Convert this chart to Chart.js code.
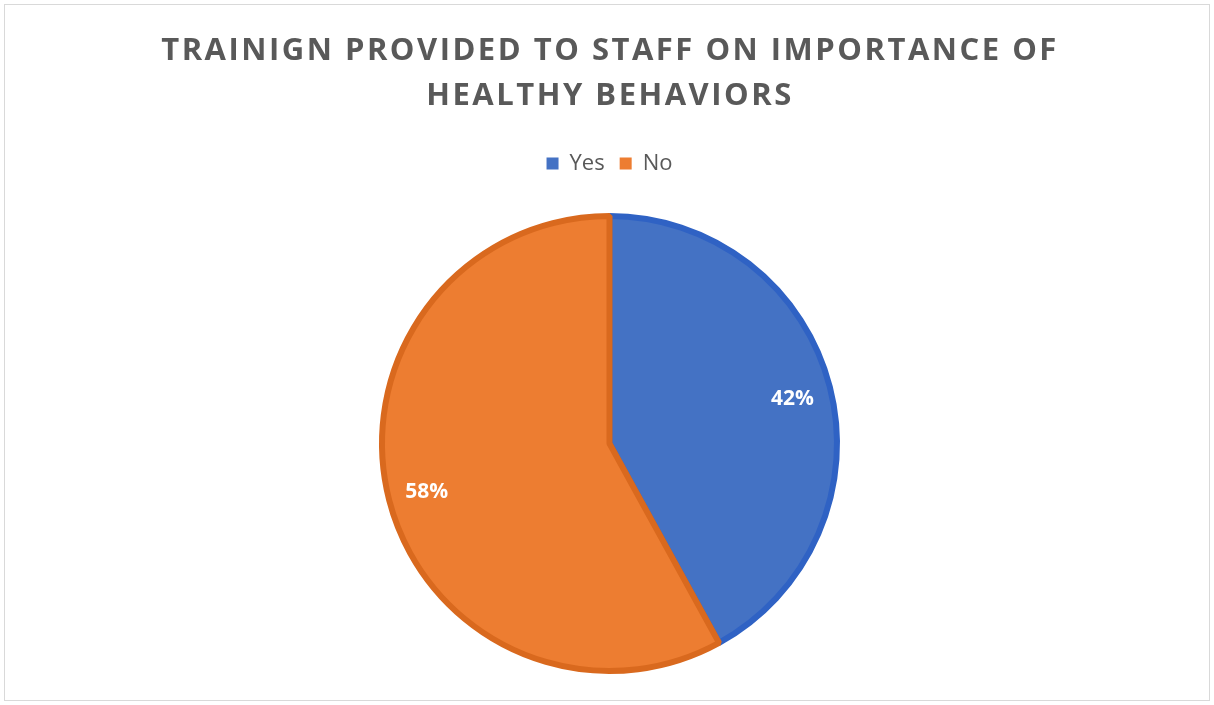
<!DOCTYPE html>
<html>
<head>
<meta charset="utf-8">
<title>Training provided to staff</title>
<script src="https://cdn.jsdelivr.net/npm/chart.js@4/dist/chart.umd.min.js"></script>
<style>
  html, body { margin: 0; padding: 0; background: #fff; }
  #wrap { width: 1214px; height: 705px; }
</style>
</head>
<body>
<div id="wrap"><canvas id="pieChart" width="1214" height="705"></canvas></div>
<script>
const titleLines = ["TRAINIGN PROVIDED TO STAFF ON IMPORTANCE OF", "HEALTHY BEHAVIORS"];
const categories = ["Yes", "No"];
const shares = [42, 58];
const fillColors = ["#4472C4", "#ED7D31"];
const edgeColors = ["#2F62C4", "#D9691E"];

// frame + two-line spaced title, painted before the legend and slices
const framePlugin = {
  id: "frame",
  beforeDraw(chart) {
    const ctx = chart.ctx;
    ctx.save();
    ctx.strokeStyle = "#d9d9d9";
    ctx.lineWidth = 1;
    ctx.strokeRect(4.5, 4.5, chart.width - 9, chart.height - 9);

    ctx.fillStyle = "#595959";
    ctx.font = "bold 31px 'Open Sans'";
    ctx.letterSpacing = "2.5px";
    ctx.textAlign = "center";
    ctx.textBaseline = "alphabetic";
    ctx.fillText(titleLines[0], 610, 60);
    ctx.fillText(titleLines[1], 610, 105);
    ctx.restore();
  }
};

// percent labels sitting toward the outer edge of each slice
const valueLabels = {
  id: "valueLabels",
  afterDatasetsDraw(chart) {
    const ctx = chart.ctx;
    const meta = chart.getDatasetMeta(0);
    ctx.save();
    ctx.fillStyle = "#ffffff";
    ctx.font = "bold 21px 'Open Sans'";
    ctx.textAlign = "center";
    ctx.textBaseline = "alphabetic";
    meta.data.forEach((arc, i) => {
      const p = arc.getProps(["x", "y", "startAngle", "endAngle", "outerRadius"], true);
      const mid = (p.startAngle + p.endAngle) / 2;
      const r = p.outerRadius * 0.83;
      // baseline pushed down by half the cap height so the digits centre on the point
      ctx.fillText(shares[i] + "%", p.x + Math.cos(mid) * r, p.y + Math.sin(mid) * r + 8);
    });
    ctx.restore();
  }
};

new Chart(document.getElementById("pieChart"), {
  type: "pie",
  data: {
    labels: categories,
    datasets: [{
      data: shares,
      backgroundColor: fillColors,
      borderColor: edgeColors,
      borderWidth: 6
    }]
  },
  options: {
    responsive: false,
    animation: false,
    layout: { padding: { top: 137.5, bottom: 2.5, left: 379, right: 374 } },
    plugins: {
      title: { display: false },
      tooltip: { enabled: false },
      legend: {
        position: "top",
        labels: {
          boxWidth: 12,
          boxHeight: 12,
          padding: 15,
          color: "#595959",
          font: { family: "'Open Sans'", size: 22 },
          generateLabels(chart) {
            return categories.map((c, i) => ({
              text: c,
              fillStyle: fillColors[i],
              strokeStyle: fillColors[i],
              lineWidth: 0,
              fontColor: "#595959",
              index: i
            }));
          }
        }
      }
    }
  },
  plugins: [framePlugin, valueLabels]
});
</script>
</body>
</html>
